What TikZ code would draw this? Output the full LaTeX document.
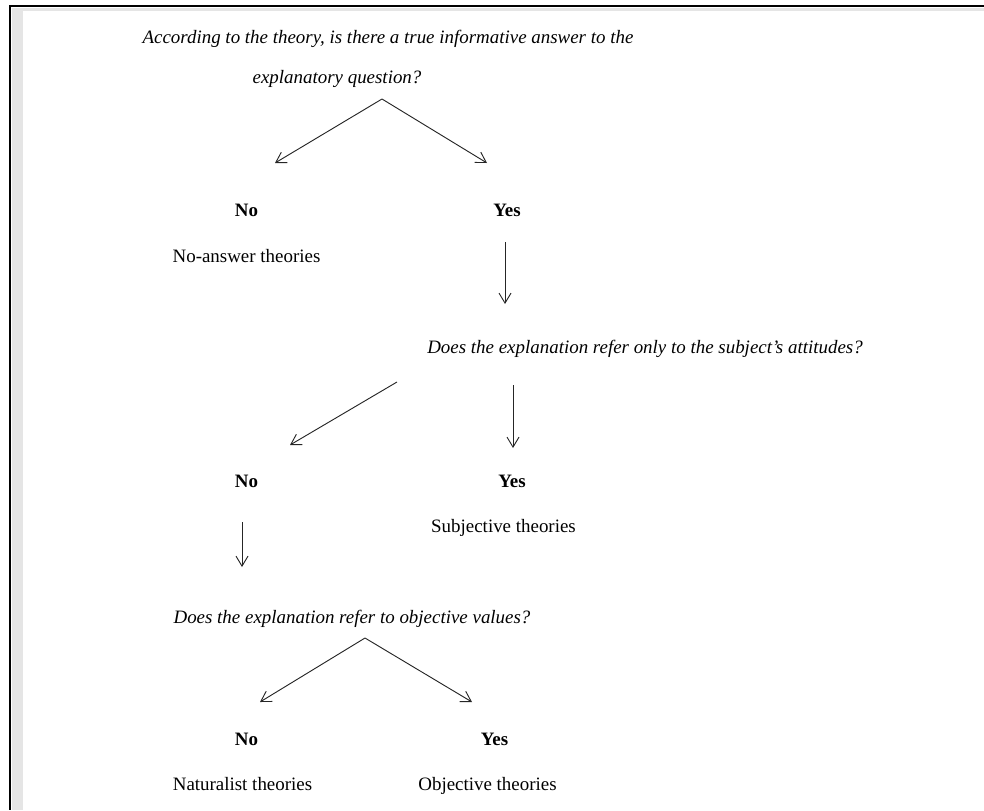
\documentclass[tikz,border=0pt]{standalone}
\usepackage{fontspec}
\setmainfont{Liberation Serif}
\usetikzlibrary{arrows.meta}

\begin{document}
\begin{tikzpicture}[x=0.75pt,y=-0.75pt,
  quest/.style={font=\fontsize{14.2}{17}\selectfont\itshape,inner sep=0pt,anchor=base},
  answer/.style={font=\fontsize{14.2}{17}\selectfont\bfseries,inner sep=0pt,anchor=base},
  result/.style={font=\fontsize{14.2}{17}\selectfont,inner sep=0pt,anchor=base},
  flow/.style={-{Straight Barb[length=7.5pt,width=9pt]},line width=0.7pt,black!85}]
\useasboundingbox (0,0) rectangle (984,810);
% page frame
\fill[black!10] (12,8) rectangle (984,11);
\fill[black!10] (12,8) rectangle (23,810);
\draw[line width=1.5pt] (9,6) -- (984,6);
\draw[line width=1.5pt] (10,6) -- (10,810);
% first question
\node[quest] (q1a) at (388,43) {According to the theory, is there a true informative answer to the};
\node[quest] (q1b) at (337,83) {explanatory question?};
\coordinate (q1top) at (382,99);
\coordinate (q1no) at (275,163);
\coordinate (q1yes) at (487,163);
\node[answer] (no1) at (246.5,216) {No};
\node[answer] (yes1) at (507,216) {Yes};
\node[result] (noans) at (246.5,262) {No-answer theories};
\coordinate (yes1out) at (505,242);
\coordinate (q2in) at (505,304);
% second question
\node[quest] (q2) at (645,353) {Does the explanation refer only to the subject's attitudes?};
\coordinate (q2left) at (397,382);
\coordinate (q2no) at (290,445);
\coordinate (q2down) at (513,385);
\coordinate (q2yes) at (513,448);
\node[answer] (no2) at (246.5,487) {No};
\node[answer] (yes2) at (512,487) {Yes};
\node[result] (subj) at (503.5,532) {Subjective theories};
\coordinate (no2out) at (242,522);
\coordinate (q3in) at (242,567);
% third question
\node[quest] (q3) at (352,623) {Does the explanation refer to objective values?};
\coordinate (q3top) at (365,638);
\coordinate (q3no) at (260,702);
\coordinate (q3yes) at (472,702);
\node[answer] (no3) at (246.5,745) {No};
\node[answer] (yes3) at (494.5,745) {Yes};
\node[result] (nat) at (242.5,790) {Naturalist theories};
\node[result] (obj) at (487.5,790) {Objective theories};
\foreach \a/\b in {q1top/q1no,q1top/q1yes,yes1out/q2in,q2left/q2no,q2down/q2yes,no2out/q3in,q3top/q3no,q3top/q3yes}
  \draw[flow] (\a)--(\b);
\end{tikzpicture}
\end{document}
